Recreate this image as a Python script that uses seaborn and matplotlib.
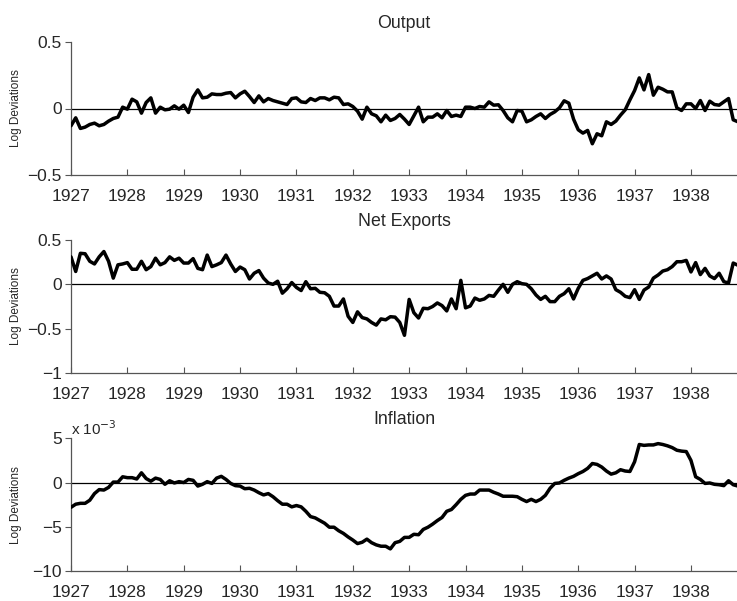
import numpy as np
import pandas as pd
import matplotlib
matplotlib.use("Agg")
import matplotlib.pyplot as plt
import seaborn as sns

# Monthly log deviations from trend, January 1927 onward
output = [
    -0.13, -0.07, -0.15, -0.14, -0.12, -0.11, -0.13, -0.12, -0.095, -0.075,
    -0.065, 0.01, -0.005, 0.07, 0.05, -0.035, 0.045, 0.08, -0.035, 0.01,
    -0.01, -0.005, 0.02, -0.005, 0.025, -0.03, 0.085, 0.14, 0.08, 0.085,
    0.11, 0.105, 0.105, 0.115, 0.12, 0.08, 0.11, 0.13, 0.09, 0.045,
    0.095, 0.05, 0.075, 0.06, 0.05, 0.04, 0.03, 0.075, 0.08, 0.05,
    0.045, 0.075, 0.06, 0.08, 0.08, 0.065, 0.085, 0.08, 0.03, 0.035,
    0.015, -0.02, -0.08, 0.01, -0.04, -0.055, -0.1, -0.05, -0.09, -0.075,
    -0.045, -0.08, -0.12, -0.055, 0.01, -0.1, -0.065, -0.065, -0.04, -0.07,
    -0.015, -0.06, -0.05, -0.06, 0.01, 0.01, 0.0, 0.015, 0.01, 0.05,
    0.025, 0.028, -0.015, -0.07, -0.1, -0.015, -0.02, -0.1, -0.085, -0.06,
    -0.04, -0.075, -0.045, -0.025, 0.005, 0.058, 0.04, -0.08, -0.16, -0.185,
    -0.165, -0.265, -0.19, -0.205, -0.1, -0.12, -0.095, -0.05, -0.01, 0.065,
    0.135, 0.23, 0.14, 0.255, 0.1, 0.16, 0.145, 0.125, 0.125, 0.005,
    -0.015, 0.035, 0.035, 0.0, 0.06, -0.015, 0.055, 0.03, 0.025, 0.05,
    0.075, -0.085, -0.1,
]

net_exports = [
    0.31, 0.145, 0.35, 0.345, 0.26, 0.23, 0.31, 0.37, 0.26, 0.07,
    0.22, 0.23, 0.245, 0.17, 0.17, 0.26, 0.165, 0.2, 0.295, 0.22,
    0.245, 0.31, 0.27, 0.295, 0.24, 0.24, 0.29, 0.18, 0.165, 0.33,
    0.2, 0.22, 0.245, 0.33, 0.23, 0.145, 0.195, 0.165, 0.06, 0.125,
    0.155, 0.07, 0.015, 0.0, 0.035, -0.1, -0.05, 0.02, -0.035, -0.07,
    0.03, -0.05, -0.045, -0.09, -0.095, -0.135, -0.245, -0.245, -0.165, -0.36,
    -0.43, -0.31, -0.375, -0.39, -0.43, -0.46, -0.39, -0.4, -0.365, -0.37,
    -0.43, -0.575, -0.17, -0.32, -0.38, -0.27, -0.275, -0.25, -0.21, -0.24,
    -0.3, -0.165, -0.275, 0.045, -0.265, -0.245, -0.155, -0.18, -0.165, -0.125,
    -0.135, -0.065, 0.0, -0.09, 0.0, 0.03, 0.0075, 0.0, -0.05, -0.12,
    -0.17, -0.135, -0.195, -0.195, -0.135, -0.105, -0.05, -0.165, -0.045, 0.045,
    0.065, 0.095, 0.125, 0.06, 0.095, 0.06, -0.06, -0.09, -0.135, -0.15,
    -0.06, -0.17, -0.065, -0.03, 0.07, 0.105, 0.15, 0.165, 0.2, 0.255,
    0.255, 0.27, 0.14, 0.245, 0.11, 0.18, 0.095, 0.065, 0.125, 0.03,
    0.015, 0.24, 0.215,
]

# Inflation, in units of 10^-3
inflation = [
    -2.8, -2.45, -2.35, -2.35, -2.0, -1.25, -0.8, -0.85, -0.55, 0.05,
    0.05, 0.65, 0.55, 0.55, 0.4, 1.1, 0.45, 0.15, 0.5, 0.35,
    -0.2, 0.2, -0.05, 0.1, 0.0, 0.35, 0.25, -0.4, -0.2, 0.1,
    -0.1, 0.5, 0.7, 0.35, -0.1, -0.35, -0.4, -0.7, -0.65, -0.85,
    -1.15, -1.4, -1.25, -1.6, -2.05, -2.45, -2.45, -2.75, -2.6, -2.75,
    -3.25, -3.85, -4.0, -4.3, -4.6, -5.05, -5.05, -5.45, -5.75, -6.15,
    -6.5, -6.9, -6.75, -6.4, -6.8, -7.05, -7.2, -7.2, -7.5, -6.8,
    -6.65, -6.2, -6.2, -5.85, -5.9, -5.3, -5.05, -4.7, -4.3, -3.95,
    -3.25, -3.05, -2.5, -1.9, -1.45, -1.3, -1.3, -0.85, -0.85, -0.85,
    -1.1, -1.3, -1.55, -1.55, -1.55, -1.6, -1.9, -2.15, -1.9, -2.15,
    -1.9, -1.45, -0.65, -0.1, -0.05, 0.25, 0.5, 0.7, 1.0, 1.25,
    1.6, 2.15, 2.05, 1.75, 1.3, 0.95, 1.1, 1.45, 1.3, 1.25,
    2.35, 4.3, 4.2, 4.25, 4.25, 4.4, 4.3, 4.15, 3.95, 3.65,
    3.55, 3.5, 2.5, 0.65, 0.35, -0.1, -0.05, -0.2, -0.25, -0.35,
    0.2, -0.25, -0.4,
]

years = list(range(1927, 1939))
titles = ["Output", "Net Exports", "Inflation"]
yticks = [[-0.5, 0, 0.5], [-1, -0.5, 0, 0.5], [-10, -5, 0, 5]]
ylabel = "Log Deviations"

months = 1927 + np.arange(len(output)) / 12.0
df = pd.DataFrame({
    "date": months,
    "Output": output,
    "Net Exports": net_exports,
    "Inflation": inflation,
})

sns.set_style("ticks")
plt.rcParams["font.family"] = ["Liberation Sans", "DejaVu Sans"]
plt.rcParams["axes.unicode_minus"] = True

W, H = 737, 601
fig = plt.figure(figsize=(W / 100, H / 100), dpi=100)

# panel boxes in pixels: (top, bottom)
boxes = [(42, 175), (240, 373), (438.3, 571)]
left_px = 71

for (top, bot), title, ticks in zip(boxes, titles, yticks):
    ax = fig.add_axes([left_px / W, 1 - bot / H, 1 - left_px / W, (bot - top) / H])
    ax.axhline(0, color="black", lw=0.9, zorder=1)
    sns.lineplot(data=df, x="date", y=title, ax=ax, color="black",
                 lw=2.5, sort=False, zorder=3)
    ax.set_xlim(1927, 1927 + (W - left_px) / 56.36)
    ax.set_ylim(ticks[0], ticks[-1])
    ax.set_xticks(years)
    ax.set_xticklabels([str(y) for y in years])
    ax.set_yticks(ticks)
    ax.set_yticklabels([f"{t:g}".replace("-", "\u2212") for t in ticks])
    ax.set_xlabel("")
    ax.set_ylabel("")
    ax.set_title(title, fontsize=12.8, pad=10)
    sns.despine(ax=ax)
    for s in ("left", "bottom"):
        ax.spines[s].set_color("#555555")
        ax.spines[s].set_linewidth(0.9)
    ax.tick_params(axis="x", direction="in", length=4, width=0.8,
                   color="#555555", labelsize=12.5, pad=10)
    ax.tick_params(axis="y", direction="out", length=4, width=0.8,
                   color="#555555", labelsize=12.5, pad=2.5)
    fig.text(16.5 / W, 1 - (top + bot) / 2 / H, ylabel, rotation=90,
             ha="center", va="center", fontsize=8.5)
    if title == "Inflation":
        ax.text(0.0, 1.0, "x 10$^{\u22123}$", transform=ax.transAxes,
                ha="left", va="bottom", fontsize=11)

fig.savefig("out.png", dpi=100)
